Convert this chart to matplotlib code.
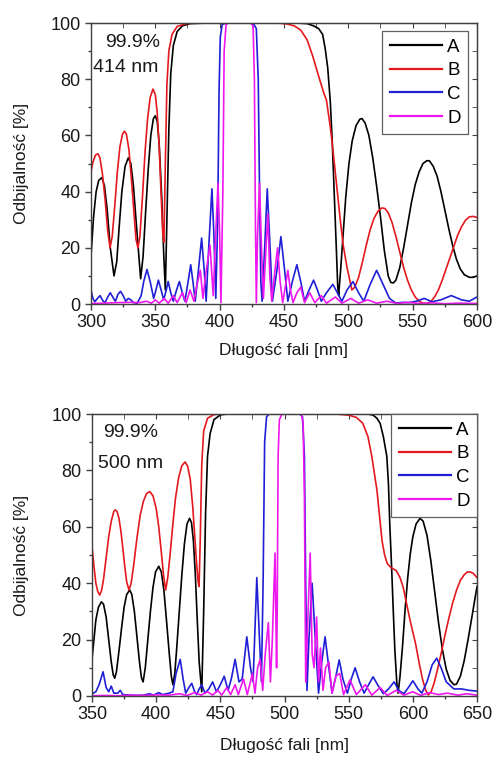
import numpy as np
import matplotlib
matplotlib.use('Agg')
import matplotlib.pyplot as plt
from matplotlib.ticker import MultipleLocator

plt.rcParams['font.family'] = ['Liberation Sans', 'DejaVu Sans']

# (wavelength nm, reflectance %)
# upper panel: 414 nm
top_A = [(300, 17), (302, 31), (304, 40), (306, 44), (308.5, 45), (310.5, 42), (312.5, 34), (315, 20),
         (317.9, 10), (320, 15), (322, 28), (324, 40), (326.5, 49), (329, 52), (331, 50), (333, 42),
         (335.5, 27), (338.6, 9), (340.5, 17), (342.5, 33), (344.5, 48), (346.5, 60), (348.5, 66),
         (350, 67), (351.5, 65), (353, 57), (355, 38), (356.5, 18), (357.8, 5), (359, 30), (360.5, 62),
         (362, 82), (364, 92), (367, 97), (371, 99), (377, 99.8), (390, 100), (460, 100), (468, 99.8),
         (473, 99), (477, 98), (480, 96), (482, 91), (484, 84), (486, 72), (487.5, 58), (489, 40),
         (490.5, 22), (491.8, 6), (492.5, 3), (494, 12), (496, 25), (498, 38), (500.5, 50), (503, 58),
         (506, 63.5), (509, 65.8), (510.6, 66), (513, 64.5), (516, 60), (519, 52), (522, 42), (525, 31),
         (528, 19), (531, 10), (533, 7.7), (535, 7.5), (537, 8.5), (540, 13), (543, 20), (546, 28),
         (549, 36), (552, 42.5), (555, 47), (558, 50), (561, 51), (563, 51), (566, 49), (569, 45.5),
         (572, 40), (575, 33.5), (578, 27), (581, 21), (584, 16), (587, 12.5), (590, 10.5), (594, 9.5),
         (597, 9.5), (600, 10)]
top_B = [(300, 47), (301.5, 50.5), (303.5, 53), (305.4, 53.5), (307, 52), (309, 46), (311, 37),
         (313, 26), (314.8, 20), (316.5, 24), (318.5, 35), (320.5, 47), (322.5, 56), (324.5, 60.5),
         (326, 61.5), (327.5, 60.5), (329.5, 55), (331.5, 44), (333.5, 32), (335, 23), (336.5, 20),
         (338, 24), (340, 38), (342, 54), (344, 66), (346, 73.5), (348.2, 76.5), (350, 74.5), (351.5, 68),
         (353, 56), (354.5, 39), (355.8, 25), (356.7, 22), (357.8, 50), (359, 78), (360.5, 90), (363, 96),
         (367, 98.8), (374, 99.8), (380, 100), (445, 100), (452, 99.7), (458, 99), (463, 97.5), (468, 94),
         (472.5, 88), (477, 81), (481, 75), (483, 72.6), (486, 63), (488, 55), (491, 42), (493.5, 31),
         (496, 21), (499, 13), (502.8, 5), (505, 6), (508, 9.5), (511, 15), (514, 21), (517, 26.5),
         (520, 30.5), (523, 33), (526, 34.2), (528.4, 34), (531, 32.5), (534, 29), (537, 24), (540, 18.5),
         (543, 13), (546, 8.5), (549, 5), (552, 2.5), (555, 1), (558, 0.3), (561, 0.2), (564, 0.8),
         (567, 2.5), (570, 5), (573, 8.5), (576, 12.5), (579, 16.5), (582, 20.5), (585, 24.5),
         (588, 27.5), (591, 29.8), (594, 31), (597, 31.2), (600, 30.8)]
top_C = [(300, 5), (301.5, 2), (303, 0.8), (305, 2), (307, 3), (309.5, 1), (311, 0.5), (313, 2.5),
         (315, 4), (317.5, 2), (319, 1), (321, 3.5), (323, 4.5), (325, 3), (327, 1), (329, 2),
         (331, 1.5), (333, 0.5), (336, 0.3), (339, 3), (341, 8), (343.5, 12.3), (346, 8), (348.7, 2),
         (350.5, 5), (352.4, 8.5), (354.5, 5), (356.5, 1.5), (358.5, 5), (360, 8), (362, 4), (364, 1),
         (366.5, 5), (368.7, 8), (371, 4), (373, 1), (375.5, 8), (377.5, 14), (379.5, 7), (381, 1),
         (383.5, 12), (386, 23.5), (388, 12), (389.5, 1), (391.5, 20), (394, 41), (395.5, 25), (397, 2),
         (398.5, 30), (399.5, 75), (400.5, 95), (402, 99.5), (405, 100), (426, 100), (428.5, 98),
         (430, 80), (431, 40), (432, 8), (433, 1), (435, 20), (437, 41), (439, 22), (441, 1),
         (444.5, 12), (447.6, 24), (450.5, 12), (453, 1), (456.5, 8), (460, 14), (463, 8), (466, 1),
         (469.5, 5), (473, 8.5), (476, 5), (479, 1), (483, 4), (488, 7), (491.5, 4), (495, 1),
         (499, 5), (503.6, 8), (508, 4), (512, 1), (517, 7), (522, 12), (527, 7), (532, 2),
         (537, 0.3), (542, 0.6), (547, 0.5), (553, 1), (559, 2), (565, 0.8), (572, 1.5), (580, 3),
         (588, 1.5), (594, 1), (600, 2.5)]
top_D = [(300, 0.2), (310, 0.3), (320, 0.5), (330, 0.6), (338, 0.5), (343, 1), (347, 0.3), (350, 1.5),
         (353, 0.3), (357, 2), (360, 0.3), (364, 3), (367, 0.5), (371, 4), (374, 0.5), (377, 5),
         (380, 1), (382.5, 7), (385, 12), (387, 2), (389, 10), (392.5, 21), (395, 3), (396.5, 20),
         (398.7, 43), (400, 25), (401, 0.5), (402.5, 40), (403.5, 90), (405, 99.5), (407, 100),
         (424, 100), (426, 99), (427, 80), (427.8, 30), (428.5, 0.5), (429.5, 25), (431, 43),
         (432.5, 20), (434, 2), (436, 20), (437.5, 32), (439, 10), (440.5, 1), (443, 12), (445, 20),
         (447, 8), (449, 0.5), (451, 6), (453, 12), (455, 5), (457, 0.5), (460, 4), (463, 6),
         (466, 0.5), (470, 4), (474, 0.5), (479, 3), (483, 0.3), (490, 2.5), (495, 0.3), (502, 2),
         (508, 0.3), (515, 1.5), (522, 0.3), (530, 1), (538, 0.2), (546, 0.6), (555, 0.2), (565, 0.4),
         (575, 0.1), (585, 0.3), (600, 0.2)]

# lower panel: 500 nm
bot_A = [(350, 13), (351.5, 20), (353, 27), (355, 31.5), (357.3, 33.4), (359, 32.5), (361, 28),
         (363, 20), (365, 12), (366.5, 7.5), (367.7, 6.3), (369, 8.5), (371, 16), (373, 24),
         (375, 31.5), (377, 36), (379.4, 37.6), (381, 36), (383, 30), (385, 21), (387, 12),
         (388.5, 6.5), (389.8, 5), (391.5, 10), (393.5, 20), (395.5, 30), (397.5, 38.5), (399.5, 44),
         (402, 46), (404, 44), (406, 37.5), (408, 27), (410, 16), (411.8, 7), (413, 4), (414.5, 8),
         (416, 17), (418, 30), (420, 43), (422, 54), (424, 61), (426, 63), (427.5, 61.5), (429, 55),
         (430.5, 43), (432, 27), (433.5, 12), (435.5, 1.5), (437, 30), (438.5, 65), (440, 85),
         (442, 93), (445, 98), (450, 99.7), (455, 100), (565, 100), (569, 99.6), (572, 98.5),
         (574.5, 96.7), (577, 92), (579.7, 85), (581, 75), (582, 61), (583.5, 45), (584.6, 31.7),
         (586, 16), (587.5, 4.6), (588.5, 1), (590, 7), (592, 18), (594, 31), (596, 42), (598, 50.5),
         (600, 56.5), (602.5, 61), (605.6, 63), (608, 62), (611, 57), (614, 48), (617, 37), (620, 26),
         (623, 16.5), (626, 9.5), (629, 5.5), (632, 4), (634, 4.2), (637, 7), (640, 12.5), (643, 20),
         (646, 28), (648, 33.5), (650, 38.8)]
bot_B = [(350, 53), (351.5, 46), (353, 40), (354.5, 37), (356, 35.8), (357.5, 37.5), (359, 41.5),
         (361, 49), (363, 56.5), (365, 62), (367, 65.5), (368, 66), (369.5, 65.5), (371, 63),
         (372.5, 58.5), (374, 52.5), (375.5, 46), (377, 40.5), (378.8, 37.6), (380.5, 40), (382.5, 46.5),
         (385, 56), (387.5, 64), (390, 69), (392.5, 71.8), (395, 72.5), (397.5, 71), (400, 66.5),
         (402, 60), (404, 51), (405.8, 42.5), (407.4, 37.6), (409, 42), (411, 51), (413, 61), (415, 70),
         (417.5, 77.5), (420, 81.7), (422.5, 83), (424.5, 81.5), (426.5, 77), (428.5, 67), (430, 57),
         (431.5, 47), (432.7, 40.5), (433.4, 38.8), (434.3, 55), (435.5, 82), (437, 94), (440, 98.5),
         (445, 99.8), (450, 100), (540, 100), (550, 99.6), (556, 98.8), (561, 96.7), (565, 92),
         (568, 85), (572, 73), (576, 55), (578, 50), (580, 47), (583, 45.5), (587, 44.5), (590, 42),
         (592.5, 38.5), (595, 33), (598, 26.5), (602, 18.8), (605, 11.5), (607.5, 6), (610, 2),
         (612, 0.4), (614, 1.2), (616.5, 4.5), (619, 9), (622, 15), (625, 21.5), (628, 27.5), (631, 33),
         (634, 37.5), (637, 41), (640, 43), (642.5, 44), (644.6, 44), (647, 43.5), (650, 42)]
bot_C = [(350, 0.8), (353, 1.5), (355.5, 4), (358.6, 8.6), (361, 3), (363, 1.5), (365, 3.5), (367, 1),
         (370, 1), (372, 2), (374, 0.5), (380, 0.3), (385, 0.2), (390, 0.3), (395, 0.8), (398, 0.3),
         (402, 1.2), (405, 0.5), (410, 1), (413, 1.5), (415.5, 8), (418.7, 13), (421, 6), (423, 1),
         (425.5, 3), (427.7, 4.5), (430, 1.5), (431.5, 0.5), (433.5, 2.5), (435.5, 4), (438, 1),
         (441, 2.5), (444, 5), (447, 1.5), (450, 4), (453, 7), (456, 2), (458.5, 6), (461.5, 13),
         (464.5, 5), (467, 6), (470.6, 21), (473.5, 10), (475.5, 5), (478.4, 42), (480.5, 20), (482, 5),
         (483.3, 40), (484.5, 90), (486, 99), (488, 100), (512, 100), (514, 99), (515.5, 85),
         (516.5, 40), (517.5, 2), (519, 20), (521.5, 40), (524, 20), (526.5, 1), (529, 12),
         (531.6, 21), (534, 12), (537, 1), (540, 7), (542.6, 12.8), (545.5, 6), (549, 1), (552, 6),
         (555, 10), (558.5, 5), (562, 1), (565.5, 4), (569, 6.8), (572.5, 4), (577, 0.8), (581, 2.5),
         (585.4, 5), (589, 2), (593, 0.8), (596.5, 3), (600, 5.4), (604, 2.5), (607, 1), (611, 5),
         (615, 11), (618.6, 13.4), (622, 10), (626, 5), (632, 2.5), (638, 2.5), (644, 2), (650, 1.7)]
bot_D = [(350, 0.1), (360, 0.2), (370, 0.1), (380, 0.3), (390, 0.2), (400, 0.4), (410, 0.3),
         (418, 0.8), (424, 0.2), (430, 1.2), (435, 0.3), (440, 1.5), (444, 0.3), (448, 2), (451, 0.3),
         (455, 3), (458, 0.5), (461.5, 4), (464, 0.5), (468, 6), (471, 0.5), (475, 8), (477, 1),
         (479, 10), (481, 13), (483, 2), (485, 15), (487.4, 26), (489, 5), (490.5, 20), (492.6, 50.7),
         (493.8, 10), (494.3, 30), (495, 85), (496, 98), (498, 100), (513, 100), (514.5, 97),
         (515.5, 70), (516.5, 5), (518, 25), (520, 50.7), (521.5, 15), (523, 10), (525, 28),
         (526.5, 5), (528, 17), (530, 2), (532, 10), (534.6, 12), (537, 1), (540, 7), (543, 8),
         (546, 0.5), (551, 5.7), (556, 0.5), (563, 4), (568, 0.3), (574.5, 3), (580, 0.2), (587, 2),
         (593, 0.3), (600, 1.5), (606, 0.2), (613, 1.2), (620, 0.5), (627, 1), (635, 0.3), (642, 0.8),
         (650, 0.3)]

labels = ['A', 'B', 'C', 'D']
colors = ['#000000', '#e3191f', '#1f1fd6', '#ee17ee']
notes_top = ['99.9%', '414 nm']
notes_bot = ['99.9%', '500 nm']

fig = plt.figure(figsize=(4.95, 7.58), dpi=100)
ax1 = fig.add_axes([0.1838, 0.5989, 0.7798, 0.3707])
ax2 = fig.add_axes([0.1859, 0.0818, 0.7778, 0.3720])

panels = [
    (ax1, [top_A, top_B, top_C, top_D], (300, 600), notes_top,
     [(0.036, 0.929), (0.005, 0.843)], (0.977, 0.972), -0.179, -0.139),
    (ax2, [bot_A, bot_B, bot_C, bot_D], (350, 650), notes_bot,
     [(0.029, 0.933), (0.016, 0.826)], (1.0, 1.0), -0.182, -0.149),
]

spine_col = '#404040'
for ax, curves, xlim, notes, note_pos, leg_anchor, ylab_x, xlab_y in panels:
    for pts, lab, col in zip(curves, labels, colors):
        arr = np.array(pts)
        ax.plot(arr[:, 0], arr[:, 1], color=col, lw=1.2, label=lab)
    ax.set_xlim(*xlim)
    ax.set_ylim(0, 100)
    ax.xaxis.set_major_locator(MultipleLocator(50))
    ax.xaxis.set_minor_locator(MultipleLocator(25))
    ax.yaxis.set_major_locator(MultipleLocator(20))
    ax.yaxis.set_minor_locator(MultipleLocator(10))
    ax.tick_params(which='both', direction='out', labelsize=13, colors=spine_col,
                   labelcolor='#1a1a1a', width=1)
    ax.tick_params(which='major', length=4)
    ax.tick_params(which='minor', length=2.5)
    for s in ax.spines.values():
        s.set_color(spine_col)
        s.set_linewidth(1)

    # inward ticks on top and right, like the original
    sx = ax.secondary_xaxis('top')
    sx.xaxis.set_major_locator(MultipleLocator(50))
    sx.xaxis.set_minor_locator(MultipleLocator(25))
    sx.tick_params(which='both', direction='in', labeltop=False, colors=spine_col, length=3.5)
    sy = ax.secondary_yaxis('right')
    sy.yaxis.set_major_locator(MultipleLocator(20))
    sy.yaxis.set_minor_locator(MultipleLocator(10))
    sy.tick_params(which='both', direction='in', labelright=False, colors=spine_col, length=3.5)
    for s in list(sx.spines.values()) + list(sy.spines.values()):
        s.set_color(spine_col)

    ax.set_xlabel('Długość fali [nm]', fontsize=12.5, color='#1a1a1a')
    ax.set_ylabel('Odbijalność [%]', fontsize=12.5, color='#1a1a1a', va='center')
    ax.xaxis.set_label_coords(0.5, xlab_y)
    ax.yaxis.set_label_coords(ylab_x, 0.5)

    for txt, (tx, ty) in zip(notes, note_pos):
        ax.text(tx, ty, txt, transform=ax.transAxes, fontsize=14, ha='left', va='center',
                color='#1a1a1a')

    leg = ax.legend(loc='upper right', bbox_to_anchor=leg_anchor, borderaxespad=0,
                    fontsize=13.5, handlelength=2.8, handletextpad=0.25, labelspacing=0.35,
                    borderpad=0.4, fancybox=False, framealpha=1, edgecolor='#606060')
    leg.get_frame().set_linewidth(0.9)
    for line in leg.get_lines():
        line.set_linewidth(1.6)

fig.savefig('out.png', dpi=100)
